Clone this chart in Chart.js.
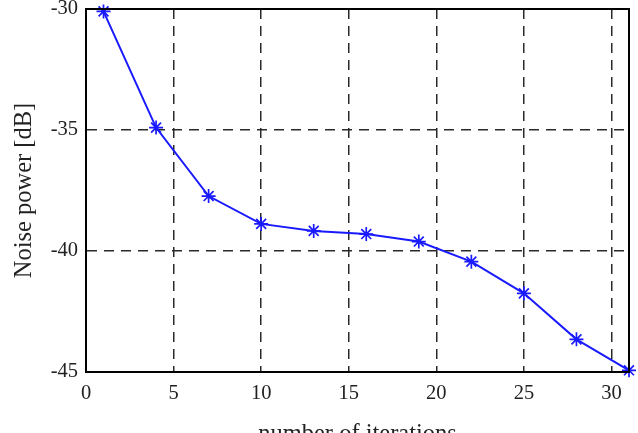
<!DOCTYPE html>
<html>
<head>
<meta charset="utf-8">
<script src="https://cdn.jsdelivr.net/npm/chart.js@4"></script>
<style>
  html, body { margin: 0; padding: 0; background: #fff; overflow: hidden; }
  #wrap { width: 638px; height: 433px; overflow: hidden; }
</style>
</head>
<body>
<div id="wrap"><canvas id="noiseChart" width="638" height="453"></canvas></div>
<script>
const iterations = [1, 4, 7, 10, 13, 16, 19, 22, 25, 28, 31];
const noisePower = [-30.1, -34.9, -37.73, -38.88, -39.17, -39.3, -39.61, -40.44, -41.75, -43.65, -44.93];
const xTicks = [0, 5, 10, 15, 20, 25, 30];
const yTicks = [-45, -40, -35, -30];

const frame = {
  id: "frame",
  afterDraw(chart) {
    const { ctx, chartArea: a } = chart;
    ctx.save();
    ctx.strokeStyle = "#000";
    ctx.lineWidth = 2;
    ctx.strokeRect(a.left, a.top, a.right - a.left, a.bottom - a.top);
    ctx.restore();
  },
};

const serif = "'Liberation Serif', 'Times New Roman', serif";

new Chart(document.getElementById("noiseChart"), {
  type: "line",
  data: {
    datasets: [
      {
        data: iterations.map((x, i) => ({ x, y: noisePower[i] })),
        borderColor: "#1a1aff",
        backgroundColor: "#1a1aff",
        borderWidth: 2,
        pointStyle: "star",
        pointRadius: 7,
        pointBorderWidth: 1.7,
        pointBorderColor: "#1a1aff",
        tension: 0,
        clip: false,
      },
    ],
  },
  options: {
    responsive: false,
    animation: false,
    layout: { padding: { left: 0, right: 9, top: 9, bottom: 0 } },
    plugins: { legend: { display: false }, tooltip: { enabled: false } },
    scales: {
      x: {
        type: "linear",
        min: 0,
        max: 31,
        afterBuildTicks: (scale) => {
          scale.ticks = xTicks.map((value) => ({ value }));
        },
        afterFit: (scale) => {
          scale.height = 81;
          scale.paddingLeft = 0;
          scale.paddingRight = 0;
        },
        ticks: {
          color: "#222",
          font: { family: serif, size: 20.5 },
          padding: 9,
          maxRotation: 0,
        },
        grid: {
          color: "#2a2a2a",
          lineWidth: 1.5,
          drawTicks: false,
        },
        border: { display: true, color: "#000", width: 2, dash: [10, 7] },
        title: {
          display: true,
          text: "number of iterations",
          color: "#222",
          font: { family: serif, size: 24.5 },
        },
      },
      y: {
        min: -45,
        max: -30,
        afterBuildTicks: (scale) => {
          scale.ticks = yTicks.map((value) => ({ value }));
        },
        afterFit: (scale) => {
          scale.width = 86;
          scale.paddingTop = 0;
          scale.paddingBottom = 0;
        },
        ticks: {
          color: "#222",
          font: { family: serif, size: 20.5 },
          padding: 8,
        },
        grid: {
          color: "#2a2a2a",
          lineWidth: 1.5,
          drawTicks: false,
        },
        border: { display: true, color: "#000", width: 2, dash: [10, 7] },
        title: {
          display: true,
          text: "Noise power [dB]",
          color: "#222",
          font: { family: serif, size: 24.5 },
          padding: { top: 10, bottom: 0 },
        },
      },
    },
  },
  plugins: [frame],
});
</script>
</body>
</html>
